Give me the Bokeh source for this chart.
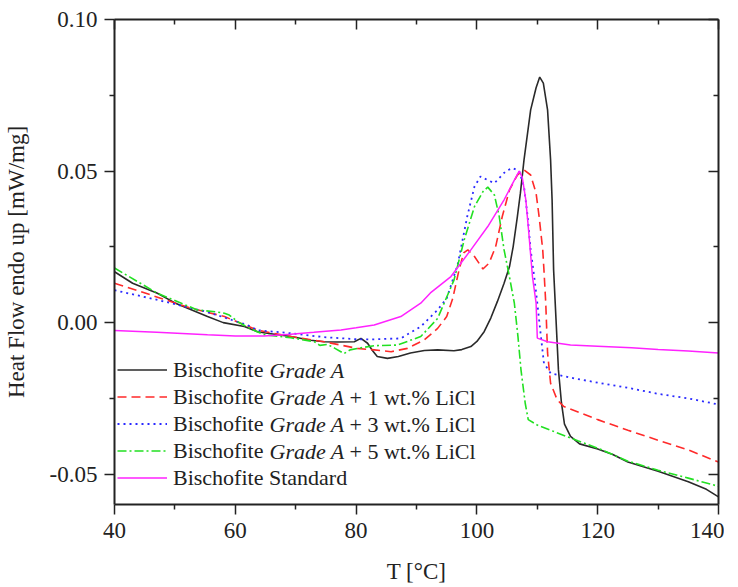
from bokeh.plotting import figure
from bokeh.models import (LinearAxis, FixedTicker, NumeralTickFormatter, Range1d,
                          Legend, LegendItem, Label)
from bokeh.embed import file_html
from bokeh.resources import INLINE

# ---------------- data ----------------
t_a = [40, 43, 47.1, 50, 55.4, 58, 61.5, 63.7, 65, 69.2, 72.5, 74.7, 77, 79.7, 80.8, 81.9,
       82.7, 83.5, 85.2, 87, 89, 91.3, 93.5, 96.2, 97.5, 99.0, 100.0, 101.2, 102.3, 103.4,
       104.5, 105.4, 106.0, 106.7, 107.2, 107.8, 108.9, 109.8, 110.4, 111.0, 111.7, 112.2,
       112.45, 112.7, 113.1, 113.5, 114.0, 114.5, 115.5, 117, 120, 122.5, 125, 130, 135,
       138, 140]
hf_a = [0.0168, 0.0130, 0.0097, 0.0065, 0.0020, 0.0000, -0.0013, -0.0030, -0.0034, -0.0046,
        -0.0058, -0.0063, -0.0064, -0.0063, -0.0052, -0.0068, -0.0092, -0.0112, -0.0118,
        -0.0112, -0.0100, -0.0092, -0.0090, -0.0093, -0.0089, -0.0079, -0.0062, -0.0030,
        0.0015, 0.0070, 0.0130, 0.0185, 0.0250, 0.0350, 0.0427, 0.0537, 0.0702, 0.0775,
        0.0810, 0.0790, 0.0702, 0.0537, 0.0405, 0.0174, 0.0010, -0.0156, -0.0265, -0.0335,
        -0.0375, -0.0400, -0.0417, -0.0435, -0.0460, -0.0490, -0.0525, -0.0550, -0.0575]

t_1 = [40, 44.4, 48, 52.6, 58.2, 63.7, 69.2, 74.7, 80.2, 83.0, 85.8, 88.5, 91.3, 93.5, 95,
       96, 97, 97.8, 98.5, 99.6, 101.0, 102.0, 103.1, 104.2, 105.4, 106.7, 107.8, 108.9,
       109.8, 110.3, 110.9, 111.1, 111.4, 111.7, 112.2, 113.3, 114.4, 120, 125, 130, 135, 140]
hf_1 = [0.0130, 0.0102, 0.0078, 0.0048, 0.0020, -0.0025, -0.0046, -0.0063, -0.0085, -0.0090,
        -0.0096, -0.0085, -0.0057, -0.0019, 0.0020, 0.0080, 0.0170, 0.0230, 0.0240, 0.0218,
        0.0177, 0.0196, 0.0250, 0.0350, 0.0438, 0.0487, 0.0504, 0.0487, 0.0427, 0.0350,
        0.0240, 0.0174, 0.0064, -0.0100, -0.0200, -0.0255, -0.0277, -0.0320, -0.0355,
        -0.0388, -0.0420, -0.0460]

t_3 = [40, 47.1, 55.4, 62.0, 63.7, 69.2, 74.7, 80.2, 83.0, 87.4, 90.7, 93.5, 95, 96.8, 98.4,
       99.6, 100.6, 101.8, 102.9, 104.8, 105.9, 107.0, 107.8, 108.4, 108.9, 109.5, 110.0,
       110.6, 111.1, 112.2, 116.1, 120, 125, 130, 135, 140]
hf_3 = [0.0107, 0.0075, 0.0035, -0.0008, -0.0025, -0.0035, -0.0048, -0.0055, -0.0055,
        -0.0052, -0.0013, 0.0042, 0.0080, 0.0190, 0.0350, 0.0449, 0.0482, 0.0470, 0.0460,
        0.0500, 0.0510, 0.0500, 0.0449, 0.0350, 0.0240, 0.0150, 0.0065, -0.0046, -0.0134,
        -0.0167, -0.0184, -0.0198, -0.0215, -0.0235, -0.0250, -0.0270]

t_5 = [40, 47.1, 53.7, 57, 58.2, 59, 60.4, 62.5, 64.8, 69.2, 73.1, 74, 75.3, 76.5, 78, 79,
       80.2, 83, 86.8, 90.7, 93.5, 96.2, 97.9, 99.6, 101.0, 101.8, 102.9, 103.7, 104.5,
       105.4, 106.2, 106.8, 107.3, 108.0, 108.5, 110, 116.7, 120, 125, 130, 135, 140]
hf_5 = [0.0180, 0.0097, 0.0042, 0.0035, 0.0031, 0.0025, 0.0003, -0.0020, -0.0040, -0.0050,
        -0.0063, -0.0075, -0.0072, -0.0085, -0.0102, -0.0090, -0.0085, -0.0076, -0.0074,
        -0.0046, 0.0014, 0.0140, 0.0273, 0.0383, 0.0432, 0.0447, 0.0421, 0.0350, 0.0240,
        0.0150, 0.0064, -0.0046, -0.0156, -0.0266, -0.0320, -0.0338, -0.0390, -0.0414,
        -0.0457, -0.0487, -0.0513, -0.0540]

t_s = [40, 47, 55.4, 60, 64.8, 69.2, 73, 77.5, 80, 83.0, 87.4, 90.7, 92.3, 95.7, 99.0, 101.8,
       104.5, 106.2, 107.0, 107.5, 108.1, 108.6, 109.2, 109.8, 110.0, 111.7, 115.5, 120,
       125.6, 130, 135, 140]
hf_s = [-0.0026, -0.0032, -0.0040, -0.0044, -0.0044, -0.0038, -0.0032, -0.0024, -0.0017,
        -0.0008, 0.0020, 0.0064, 0.0098, 0.0152, 0.0240, 0.0317, 0.0405, 0.0470, 0.0500,
        0.0480, 0.0405, 0.0295, 0.0152, 0.0064, -0.0051, -0.0063, -0.0074, -0.0078,
        -0.0083, -0.0089, -0.0094, -0.0100]

x_ticks = [40, 60, 80, 100, 120, 140]
x_minor = [50, 70, 90, 110, 130]
y_ticks = [-0.05, 0.00, 0.05, 0.10]
y_minor = [-0.025, 0.025, 0.075]

series_names = ["Bischofite", "Bischofite", "Bischofite", "Bischofite", "Bischofite Standard"]
italic_part = ["Grade A", "Grade A", "Grade A", "Grade A", ""]
rest_part = ["", "+ 1 wt.% LiCl", "+ 3 wt.% LiCl", "+ 5 wt.% LiCl", ""]

# ---------------- figure ----------------
FONT = "Liberation Serif"
TXT = "#222222"

p = figure(frame_width=604, frame_height=485, output_backend="svg", toolbar_location=None,
           x_range=Range1d(40, 140), y_range=Range1d(-0.06, 0.10),
           min_border_left=114, min_border_right=6, min_border_top=19, min_border_bottom=78,
           x_axis_label="T [°C]", y_axis_label="Heat Flow endo up [mW/mg]")
p.outline_line_color = None
p.grid.visible = False
p.background_fill_color = "white"

xt = FixedTicker(ticks=x_ticks, minor_ticks=x_minor)
yt = FixedTicker(ticks=y_ticks, minor_ticks=y_minor)
p.xaxis.ticker = xt
p.yaxis.ticker = yt
p.yaxis.formatter = NumeralTickFormatter(format="0.00")

for ax in (p.xaxis[0], p.yaxis[0]):
    ax.axis_line_width = 2
    ax.axis_line_color = "#222222"
    ax.major_tick_line_width = 1.5
    ax.minor_tick_line_width = 1.5
    ax.major_tick_line_color = "#222222"
    ax.minor_tick_line_color = "#222222"
    ax.major_tick_out = 10
    ax.major_tick_in = 0
    ax.minor_tick_out = 5
    ax.minor_tick_in = 0
    ax.major_label_text_font = FONT
    ax.major_label_text_font_size = "23px"
    ax.major_label_text_color = TXT
    ax.axis_label_text_font = FONT
    ax.axis_label_text_font_size = "23px"
    ax.axis_label_text_font_style = "normal"
    ax.axis_label_text_color = TXT
p.xaxis.major_label_standoff = 8
p.xaxis.axis_label_standoff = 18
p.yaxis.major_label_standoff = 7
p.yaxis.axis_label_standoff = 18

# mirror axes (ticks inward, no labels)
top = LinearAxis(ticker=FixedTicker(ticks=x_ticks, minor_ticks=x_minor))
right = LinearAxis(ticker=FixedTicker(ticks=y_ticks, minor_ticks=y_minor))
for ax in (top, right):
    ax.axis_line_width = 2
    ax.axis_line_color = "#222222"
    ax.major_tick_line_width = 1.5
    ax.minor_tick_line_width = 1.5
    ax.major_tick_line_color = "#222222"
    ax.minor_tick_line_color = "#222222"
    ax.major_tick_in = 10
    ax.major_tick_out = 0
    ax.minor_tick_in = 5
    ax.minor_tick_out = 0
    ax.major_label_text_font_size = "0px"
    ax.major_label_standoff = 0
    ax.major_label_text_alpha = 0
p.add_layout(top, "above")
p.add_layout(right, "right")

# ---------------- curves ----------------
r_a = p.line(t_a, hf_a, line_color="#2a2a2a", line_width=1.6)
r_1 = p.line(t_1, hf_1, line_color="#ff2a2a", line_width=1.6, line_dash="9 5")
r_3 = p.line(t_3, hf_3, line_color="#2a2aff", line_width=1.8, line_dash="2 4")
r_5 = p.line(t_5, hf_5, line_color="#22e022", line_width=1.6, line_dash="9 3 2 3")
r_s = p.line(t_s, hf_s, line_color="#ff22ff", line_width=1.5)

renderers = [r_a, r_1, r_3, r_5, r_s]
items = [LegendItem(label=n, renderers=[r]) for n, r in zip(series_names, renderers)]
ROW = 27
LEG_Y = 13
legend = Legend(items=items, location=(3, LEG_Y), orientation="vertical",
                glyph_width=50, glyph_height=ROW, label_height=ROW, spacing=0,
                padding=0, margin=0, label_standoff=6,
                label_text_font=FONT, label_text_font_size="22px",
                label_text_color=TXT, label_text_baseline="middle",
                border_line_color=None, background_fill_alpha=0)
p.add_layout(legend, "center")

# italic / trailing parts of the legend labels
n_rows = len(series_names)
for i in range(n_rows):
    yc = LEG_Y + ROW * (n_rows - i) - ROW / 2
    if italic_part[i]:
        p.add_layout(Label(x=155, y=yc, x_units="screen", y_units="screen",
                           text=italic_part[i], text_font=FONT, text_font_size="22px",
                           text_font_style="italic", text_color=TXT,
                           text_baseline="middle", text_align="left"))
    if rest_part[i]:
        p.add_layout(Label(x=235, y=yc, x_units="screen", y_units="screen",
                           text=rest_part[i], text_font=FONT, text_font_size="22px",
                           text_color=TXT, text_baseline="middle", text_align="left"))

open("out.html", "w").write(file_html(p, INLINE))
